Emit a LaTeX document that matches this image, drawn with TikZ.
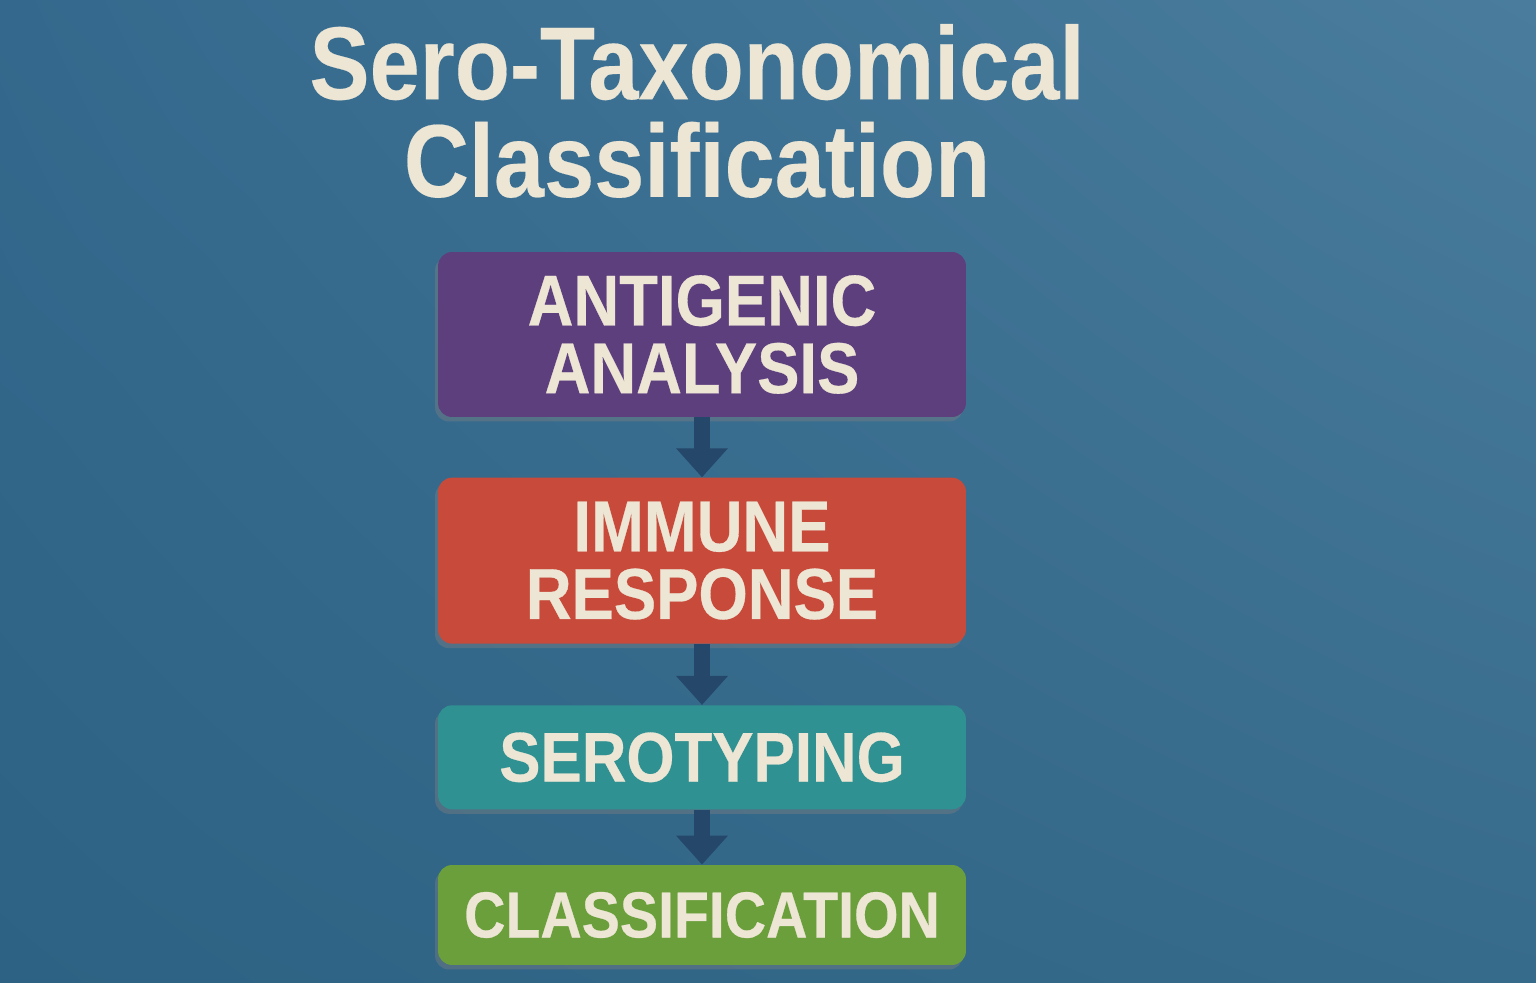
\documentclass[tikz,border=0pt]{standalone}
\usepackage{fontspec}
\setmainfont{Liberation Sans}
\newfontfamily\narrowfont[FakeStretch=0.87,FakeBold=0.2]{Liberation Sans}
\newfontfamily\stagefont[FakeStretch=0.88,FakeBold=0.4]{Liberation Sans}
\usetikzlibrary{positioning}
\usetikzlibrary{arrows.meta}
\usetikzlibrary{shadows,shadings}
\definecolor{walltop}{HTML}{34698D}
\definecolor{wallglow}{HTML}{4A7D9D}
\definecolor{wallbottom}{HTML}{2E6284}
\definecolor{wallcorner}{HTML}{376B8B}
\definecolor{cream}{HTML}{EDE6D5}
\definecolor{antigenpurple}{HTML}{5E3F7E}
\definecolor{immunered}{HTML}{C84A3B}
\definecolor{seroteal}{HTML}{2F9191}
\definecolor{classgreen}{HTML}{6A9F3B}
\definecolor{arrowblue}{HTML}{24476A}
\tikzstyle{stage} = [rectangle, rounded corners=0.28cm, minimum width=10.56cm,
  text=cream, align=center,
  font=\stagefont\bfseries\fontsize{41}{38.5}\selectfont,
  drop shadow={shadow xshift=-0.06cm, shadow yshift=-0.09cm, opacity=0.4}]
\tikzstyle{arrow} = [-{Triangle[width=1cm,length=0.58cm]}, line width=0.32cm, draw=arrowblue]

\begin{document}
\begin{tikzpicture}[x=0.02cm, y=-0.02cm]
		\shade[upper left=walltop, upper right=wallglow,
		lower left=wallbottom, lower right=wallcorner]
		(0,0) rectangle (1536,983);
		\useasboundingbox (0,0) rectangle (1536,983);
		\node (title)[text=cream,
		align=center,
		font=\narrowfont\bfseries\fontsize{59}{55.6}\selectfont] at (697,111)
		{Sero-Taxonomical\\Classification};
		\node (antigen)[stage,
		fill=antigenpurple,
		minimum height=3.3cm] at (702,334.5) {ANTIGENIC\\ANALYSIS};
		\node (immune)[stage,
		fill=immunered,
		minimum height=3.32cm,
		below=1.2cm of antigen] {IMMUNE\\RESPONSE};
		\node (serotype)[stage,
		fill=seroteal,
		minimum height=2.08cm,
		font=\stagefont\bfseries\fontsize{40}{38.5}\selectfont,
		below=1.22cm of immune] {SEROTYPING};
		\node (classify)[stage,
		fill=classgreen,
		minimum height=2cm,
		font=\stagefont\bfseries\fontsize{37}{38.5}\selectfont,
		below=1.1cm of serotype] {CLASSIFICATION};
		\draw[arrow] (antigen.south) -- (immune.north);
		\draw[arrow] (immune.south) -- (serotype.north);
		\draw[arrow] (serotype.south) -- (classify.north);
\end{tikzpicture}
\end{document}
